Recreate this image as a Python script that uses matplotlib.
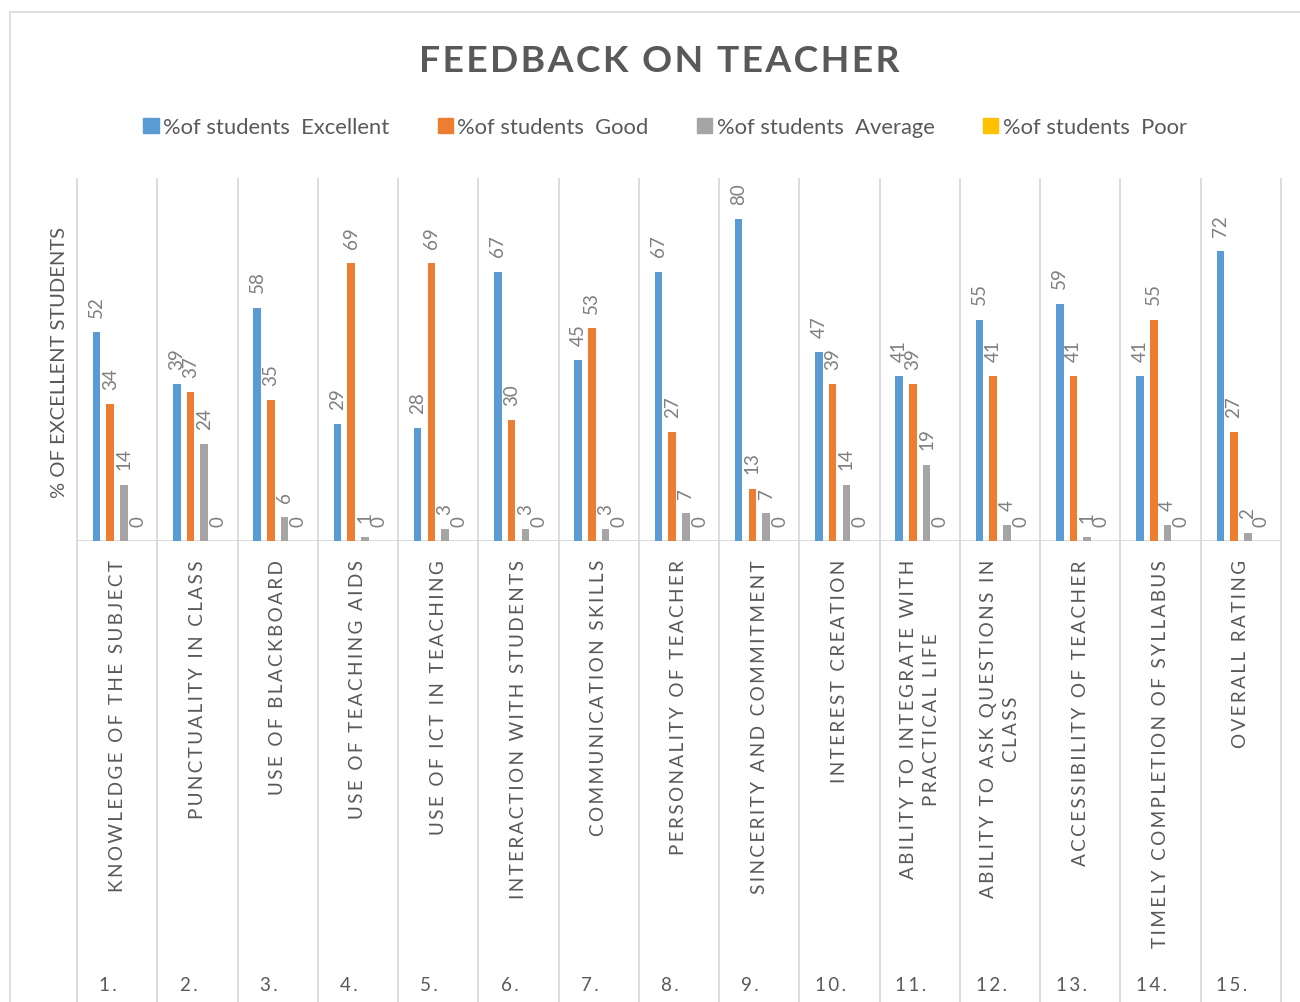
import matplotlib
matplotlib.use('Agg')
import matplotlib.pyplot as plt
import matplotlib.transforms as mtransforms
from matplotlib.patches import Rectangle, Patch
import numpy as np

# Lato stands in for Calibri; DejaVu covers the odd spaces used for letter spacing
plt.rcParams['font.family'] = ['Lato', 'DejaVu Sans']

# ------------ data ---------------
categories = [
    'KNOWLEDGE OF THE SUBJECT',
    'PUNCTUALITY IN CLASS',
    'USE OF BLACKBOARD',
    'USE OF TEACHING AIDS',
    'USE OF ICT IN TEACHING',
    'INTERACTION WITH STUDENTS',
    'COMMUNICATION SKILLS',
    'PERSONALITY OF TEACHER',
    'SINCERITY AND COMMITMENT',
    'INTEREST CREATION',
    'ABILITY TO INTEGRATE WITH\nPRACTICAL LIFE',
    'ABILITY TO ASK QUESTIONS IN\nCLASS',
    'ACCESSIBILITY OF TEACHER',
    'TIMELY COMPLETION OF SYLLABUS',
    'OVERALL RATING',
]
numbers = ['1.', '2.', '3.', '4.', '5.', '6.', '7.', '8.', '9.', '10.',
           '11.', '12.', '13.', '14.', '15.']

excellent = [52, 39, 58, 29, 28, 67, 45, 67, 80, 47, 41, 55, 59, 41, 72]
good = [34, 37, 35, 69, 69, 30, 53, 27, 13, 39, 39, 41, 41, 55, 27]
average = [14, 24, 6, 1, 3, 3, 3, 7, 7, 14, 19, 4, 1, 4, 2]
poor = [0, 0, 0, 0, 0, 0, 0, 0, 0, 0, 0, 0, 0, 0, 0]

series_names = ['%of students  Excellent', '%of students  Good',
                '%of students  Average', '%of students  Poor']
colors = ['#5b9bd5', '#ed7d31', '#a5a5a5', '#ffc000']

GRID = '#d9d9d9'
TEXT = '#595959'


def spaced(text, gap='\u2009'):
    # fake Excel's character spacing
    return '\n'.join(gap.join(line) for line in text.split('\n'))


W, H = 1300, 1003
fig = plt.figure(figsize=(W / 100, H / 100), dpi=100)

# chart border
fig.patches.append(Rectangle((10 / W, -0.01), 1.0, 1 - 13 / H + 0.01,
                             transform=fig.transFigure, fill=False,
                             edgecolor=GRID, lw=1.2))

ax = fig.add_axes([77 / W, 1 - 542 / H, 1204 / W, 362 / H])
ax.set_xlim(-0.5, 14.5)
ax.set_ylim(0, 90)
for s in ax.spines.values():
    s.set_visible(False)
ax.set_xticks([])
ax.set_yticks([])

trans = mtransforms.blended_transform_factory(ax.transData, ax.transAxes)

# category separators run down through the label area
for b in np.arange(-0.5, 15):
    ax.plot([b, b], [1, -1.3], transform=trans, color=GRID, lw=1.3,
            clip_on=False, zorder=0)
ax.axhline(0, color=GRID, lw=1.3, zorder=1)

pitch = 0.171
width = 0.094
x = np.arange(len(categories))
for i, (vals, col, name) in enumerate(zip([excellent, good, average, poor],
                                          colors, series_names)):
    xs = x + (i - 1.5) * pitch
    ax.bar(xs, vals, width=width, color=col, zorder=2)
    for xi, v in zip(xs, vals):
        ax.annotate(str(v), (xi, v), xytext=(0, 11), textcoords='offset points',
                    rotation=90, ha='center', va='bottom', fontsize=13.5,
                    color='#7f7f7f')

# two level category axis
shift = mtransforms.ScaledTranslation(-0.09, 0, fig.dpi_scale_trans)
for i, (cat, num) in enumerate(zip(categories, numbers)):
    ax.text(i, -0.05, spaced(cat), transform=trans, rotation=90, ha='center',
            va='top', multialignment='center', fontsize=13.6, color=TEXT,
            linespacing=1.45)
    ax.text(i, -1.224, spaced(num), transform=trans + shift, ha='center',
            va='center', fontsize=13.5, color=TEXT)

fig.text(60 / W, 1 - 362 / H, '% OF EXCELLENT STUDENTS', rotation=90,
         ha='center', va='center', fontsize=14.5, color=TEXT)

fig.text(659 / W, 1 - 62 / H, spaced('FEEDBACK ON TEACHER', '\u200a'),
         ha='center', va='center', fontsize=26.8, weight='bold', color=TEXT)

handles = [Patch(color=c, label=n) for c, n in zip(colors, series_names)]
fig.legend(handles=handles, loc='center', bbox_to_anchor=(665 / W, 1 - 128 / H),
           ncol=4, frameon=False, handlelength=0.7, handleheight=0.7,
           handletextpad=0.2, columnspacing=2.2, fontsize=15.8, labelcolor=TEXT)

fig.savefig('out.png', dpi=100)
